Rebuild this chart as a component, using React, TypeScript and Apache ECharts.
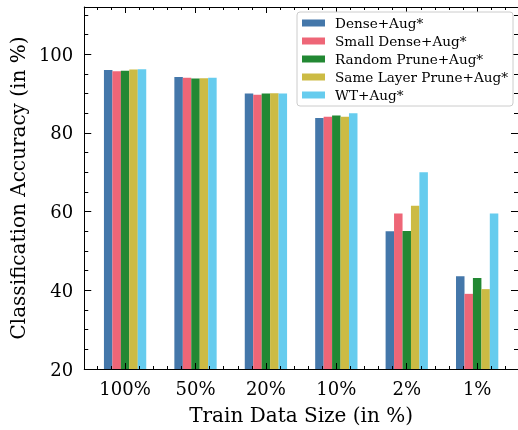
import React, { useEffect, useRef } from "react";
import * as echarts from "echarts";

const categories = ["100%", "50%", "20%", "10%", "2%", "1%"];
const seriesNames = [
  "Dense+Aug*",
  "Small Dense+Aug*",
  "Random Prune+Aug*",
  "Same Layer Prune+Aug*",
  "WT+Aug*",
];
const dense = [96.0, 94.2, 90.0, 83.8, 55.0, 43.6];
const smallDense = [95.7, 94.0, 89.7, 84.1, 59.5, 39.1];
const randomPrune = [95.8, 93.8, 90.0, 84.4, 55.1, 43.1];
const sameLayer = [96.1, 93.9, 90.1, 84.1, 61.5, 40.3];
const wt = [96.2, 94.0, 90.0, 85.0, 70.0, 59.5];
const yTicks = [20, 40, 60, 80, 100];

const allValues = [dense, smallDense, randomPrune, sameLayer, wt];
const colors = ["#4477AA", "#EE6677", "#228833", "#CCBB44", "#66CCEE"];

const FONT = "DejaVu Serif";

export default function App() {
  const ref = useRef<HTMLDivElement>(null);
  useEffect(() => {
    if (!ref.current) return;
    const chart = echarts.init(ref.current, undefined, { renderer: "svg" });
    const catIdx = categories.map((_, i) => i);
    const xMinor: number[] = [];
    for (let i = -2; i <= 27; i++) {
      if (i % 5 !== 0) xMinor.push(i * 0.2);
    }
    const yMinor: number[] = [];
    for (let v = 25; v <= 110; v += 5) if (v % 20 !== 0) yMinor.push(v);
    const xMin = -0.58;
    const xMax = 5.58;
    const axisColor = "#000";
    const baseX = {
      type: "value",
      min: xMin,
      max: xMax,
      z: 5,
      splitLine: { show: false },
    };
    const baseY = {
      type: "value",
      min: 20,
      max: 112,
      z: 5,
      splitLine: { show: false },
    };
    const line = (show: boolean) => ({
      show,
      onZero: false,
      lineStyle: { color: axisColor, width: 1 },
    });
    const option: any = {
      animation: false,
      textStyle: { fontFamily: FONT },
      grid: { left: 83, top: 7, width: 437, height: 362.3, containLabel: false },
      legend: {
        data: seriesNames,
        orient: "vertical",
        left: 297,
        top: 12,
        z: 10,
        itemWidth: 23,
        itemHeight: 7,
        itemGap: 4,
        padding: [4, 5, 4, 5],
        borderColor: "#cccccc",
        borderWidth: 1,
        borderRadius: 3,
        backgroundColor: "#ffffff",
        icon: "rect",
        textStyle: {
          fontFamily: FONT,
          fontSize: 13.6,
          color: "#000",
          lineHeight: 13,
          padding: [0, 0, 0, 5],
        },
      },
      xAxis: [
        {
          ...baseX,
          position: "bottom",
          axisLine: line(true),
          axisTick: {
            show: true,
            inside: true,
            length: 6,
            customValues: catIdx,
            lineStyle: { color: axisColor },
          },
          axisLabel: {
            show: true,
            customValues: catIdx,
            formatter: (v: number) => categories[Math.round(v)] ?? "",
            fontFamily: FONT,
            fontSize: 18,
            color: "#000",
            margin: 10,
          },
          name: "Train Data Size (in %)",
          nameLocation: "middle",
          nameGap: 36,
          nameTextStyle: { fontFamily: FONT, fontSize: 20, color: "#000" },
        },
        {
          ...baseX,
          position: "bottom",
          axisLine: line(false),
          axisTick: {
            show: true,
            inside: true,
            length: 3,
            customValues: xMinor,
            lineStyle: { color: axisColor },
          },
          axisLabel: { show: false },
        },
        {
          ...baseX,
          position: "top",
          axisLine: line(true),
          axisTick: {
            show: true,
            inside: true,
            length: 6,
            customValues: catIdx,
            lineStyle: { color: axisColor },
          },
          axisLabel: { show: false },
        },
        {
          ...baseX,
          position: "top",
          axisLine: line(false),
          axisTick: {
            show: true,
            inside: true,
            length: 3,
            customValues: xMinor,
            lineStyle: { color: axisColor },
          },
          axisLabel: { show: false },
        },
      ],
      yAxis: [
        {
          ...baseY,
          position: "left",
          axisLine: line(true),
          axisTick: {
            show: true,
            inside: true,
            length: 7,
            customValues: yTicks,
            lineStyle: { color: axisColor },
          },
          axisLabel: {
            show: true,
            customValues: yTicks,
            fontFamily: FONT,
            fontSize: 18,
            color: "#000",
            margin: 11,
          },
          name: "Classification Accuracy (in %)",
          nameLocation: "middle",
          nameGap: 53,
          nameTextStyle: { fontFamily: FONT, fontSize: 20, color: "#000" },
        },
        {
          ...baseY,
          position: "left",
          axisLine: line(false),
          axisTick: {
            show: true,
            inside: true,
            length: 4,
            customValues: yMinor,
            lineStyle: { color: axisColor },
          },
          axisLabel: { show: false },
        },
        {
          ...baseY,
          position: "right",
          axisLine: line(true),
          axisTick: {
            show: true,
            inside: true,
            length: 7,
            customValues: yTicks,
            lineStyle: { color: axisColor },
          },
          axisLabel: { show: false },
        },
        {
          ...baseY,
          position: "right",
          axisLine: line(false),
          axisTick: {
            show: true,
            inside: true,
            length: 4,
            customValues: yMinor,
            lineStyle: { color: axisColor },
          },
          axisLabel: { show: false },
        },
      ],
      series: allValues.map((vals, k) => ({
        type: "bar",
        name: seriesNames[k],
        xAxisIndex: 0,
        yAxisIndex: 0,
        barWidth: 8.5,
        barGap: "-100%",
        itemStyle: { color: colors[k] },
        data: vals.map((v, i) => [i + (k - 2) * 0.12, v]),
      })),
    };
    chart.setOption(option);
    return () => chart.dispose();
  }, []);
  return (
    <div
      ref={ref}
      style={{ position: "fixed", left: 0, top: 0, width: 518, height: 430 }}
    />
  );
}
